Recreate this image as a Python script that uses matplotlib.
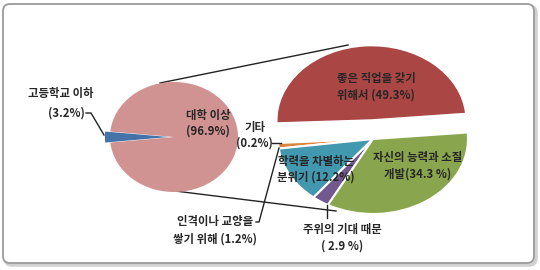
import matplotlib.pyplot as plt
from matplotlib.patches import FancyBboxPatch

plt.rcParams['font.family'] = ['Noto Sans CJK KR', 'DejaVu Sans']

# left pie: education level
left_labels = ['대학 이상', '고등학교 이하']
left_values = [96.9, 3.2]
left_colors = ['#D19392', '#4572A7']

# right pie: reasons (counterclockwise from the top slice)
right_labels = ['좋은 직업을 갖기 위해서', '기타', '인격이나 교양을 쌓기 위해',
                '학력을 차별하는 분위기', '주위의 기대 때문', '자신의 능력과 소질 개발']
right_values = [49.3, 0.2, 1.2, 12.2, 2.9, 34.3]
right_colors = ['#AA4643', '#D9E1F0', '#DB843D', '#4198AF', '#71588F', '#89A54E']

W, H = 540, 270
fig = plt.figure(figsize=(W / 100, H / 100), dpi=100)

# background axes in pixel coords (y down)
bg = fig.add_axes([0, 0, 1, 1])
bg.set_xlim(0, W)
bg.set_ylim(H, 0)
bg.axis('off')

# frame with soft shadow
bg.add_patch(FancyBboxPatch((5, 6), 531, 259, boxstyle='round,pad=0,rounding_size=7',
                            fc='none', ec='#D0D0D0', lw=2.5))
bg.add_patch(FancyBboxPatch((3, 4), 531, 259, boxstyle='round,pad=0,rounding_size=7',
                            fc='white', ec='#9A9A9A', lw=1.3))

# connector lines between the pies
bg.plot([160, 348], [83, 45], color='#222222', lw=1)
bg.plot([167, 336], [190, 211], color='#222222', lw=1)


def pie_axes(cx, cy, rx, ry):
    a = fig.add_axes([(cx - rx) / W, (H - cy - ry) / H, 2 * rx / W, 2 * ry / H])
    return a


def fix(a):
    a.set_xlim(-1, 1)
    a.set_ylim(-1, 1)
    a.set_aspect('auto')
    a.axis('off')


axl = pie_axes(174, 137, 64, 55)
axl.pie(left_values, colors=left_colors, startangle=-174.2, explode=[0, 0.08],
        radius=1, frame=True, wedgeprops=dict(lw=0))
fix(axl)

axr = pie_axes(373, 139, 95, 75)
axr.pie(right_values, colors=right_colors, startangle=5,
        explode=[0.25, 0, 0, 0, 0, 0], radius=1, frame=True,
        wedgeprops=dict(edgecolor='white', lw=1.5))
fix(axr)

# overlay for labels and leader lines
top = fig.add_axes([0, 0, 1, 1])
top.set_xlim(0, W)
top.set_ylim(H, 0)
top.axis('off')
top.patch.set_alpha(0)

tk = dict(ha='center', va='center', fontsize=8.2, fontweight='bold', color='#262626')
top.text(61, 94, '고등학교 이하', **tk)
top.text(66, 113, '(3.2%)', **tk)
top.text(208, 115, '대학 이상', **tk)
top.text(208, 131, '(96.9%)', **tk)
top.text(255, 127, '기타', **tk)
top.text(254, 143, '(0.2%)', **tk)
top.text(215, 222, '인격이나 교양을', **tk)
top.text(215, 239, '쌓기 위해 (1.2%)', **tk)
top.text(376, 78, '좋은 직업을 갖기', **tk)
top.text(376, 95, '위해서 (49.3%)', **tk)
top.text(418, 157, '자신의 능력과 소질', **tk)
top.text(418, 174, '개발(34.3 %)', **tk)
top.text(316, 162, '학력을 차별하는', **tk)
top.text(316, 177, '분위기 (12.2%)', **tk)
top.text(342, 229, '주위의 기대 때문', **tk)
top.text(342, 246, '( 2.9 %)', **tk)

lk = dict(color='#222222', lw=1)
top.plot([86, 91, 104], [113, 113, 135], **lk)
top.plot([272, 281], [143, 143], **lk)
top.plot([256, 259, 279], [222, 222, 148], **lk)
top.plot([327, 327], [205, 218], **lk)

fig.savefig('out.png', dpi=100)
